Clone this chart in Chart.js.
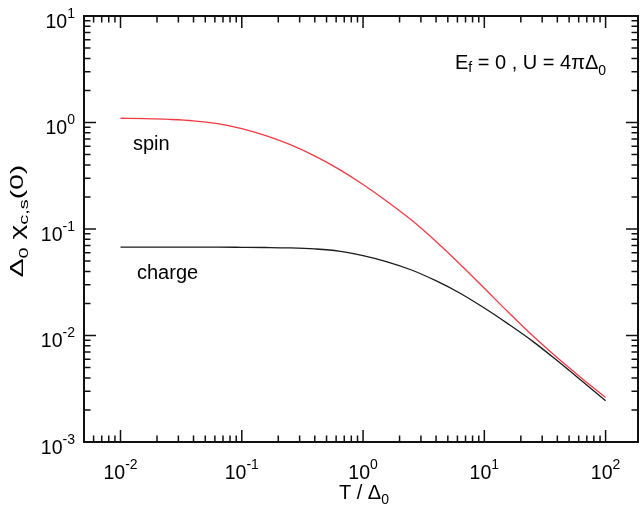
<!DOCTYPE html>
<html>
<head>
<meta charset="utf-8">
<script src="https://cdn.jsdelivr.net/npm/chart.js@4.4.1/dist/chart.umd.min.js"></script>
<style>
  html, body { margin: 0; padding: 0; background: #fff; }
  canvas { display: block; }
</style>
</head>
<body>
<canvas id="chi" width="641" height="510"></canvas>
<script>
// temperature grid, T / Δ0 (five points per decade)
const temps = [0.01, 0.0158, 0.0251, 0.0398, 0.0631, 0.1, 0.158, 0.251, 0.398, 0.631, 1, 1.58, 2.51, 3.98, 6.31, 10, 15.8, 25.1, 39.8, 63.1, 100];
// static susceptibilities Δ0 χ(0)
const chiSpin = [1.096, 1.086, 1.069, 1.038, 0.975, 0.877, 0.753, 0.619, 0.486, 0.365, 0.262, 0.1816, 0.1213, 0.0767, 0.0467, 0.0278, 0.01652, 0.00993, 0.00621, 0.0040, 0.00262];
const chiCharge = [0.0675, 0.0675, 0.0675, 0.0675, 0.0675, 0.0673, 0.0670, 0.0664, 0.0650, 0.0621, 0.0562, 0.0492, 0.0412, 0.0327, 0.02495, 0.01811, 0.01279, 0.00881, 0.00582, 0.00378, 0.00244];
// decades that carry a 10^n label
const xDecades = [-2, -1, 0, 1, 2];
const yDecades = [-3, -2, -1, 0, 1];

const FONT = '"Liberation Sans", Arial, Helvetica, sans-serif';

// a run of text pieces [text, size, dy] laid out left to right on one baseline
function runWidth(ctx, parts) {
  let w = 0;
  for (const [t, size] of parts) {
    ctx.font = size + 'px ' + FONT;
    w += ctx.measureText(t).width;
  }
  return w;
}
function drawRun(ctx, parts, x, y) {
  ctx.textAlign = 'left';
  ctx.textBaseline = 'alphabetic';
  for (const [t, size, dy] of parts) {
    ctx.font = size + 'px ' + FONT;
    ctx.fillText(t, x, y + dy);
    x += ctx.measureText(t).width;
  }
}
const pow10 = n => [['10', 19.5, 0], [String(n), 14, -10]];

const axesBox = {
  id: 'axesBox',
  afterDatasetsDraw(chart) {
    const { ctx, chartArea: a, scales: { x, y } } = chart;
    ctx.save();
    ctx.strokeStyle = '#111';
    ctx.lineWidth = 1.5;
    ctx.beginPath();
    // inward ticks on all four sides, long at decades
    for (let d = -3; d <= 2; d++) {
      for (let m = 1; m <= 9; m++) {
        const v = m * Math.pow(10, d);
        const len = m === 1 ? 12 : 6.5;
        if (v > x.min && v < x.max) {
          const px = x.getPixelForValue(v);
          ctx.moveTo(px, a.bottom); ctx.lineTo(px, a.bottom - len);
          ctx.moveTo(px, a.top); ctx.lineTo(px, a.top + len);
        }
        if (v > y.min && v < y.max) {
          const py = y.getPixelForValue(v);
          ctx.moveTo(a.left, py); ctx.lineTo(a.left + len, py);
          ctx.moveTo(a.right, py); ctx.lineTo(a.right - len, py);
        }
      }
    }
    ctx.stroke();
    ctx.lineWidth = 2;
    ctx.strokeRect(a.left, a.top, a.right - a.left, a.bottom - a.top);

    ctx.fillStyle = '#000';
    for (const n of xDecades) {
      const parts = pow10(n);
      const px = x.getPixelForValue(Math.pow(10, n));
      drawRun(ctx, parts, px - runWidth(ctx, parts) / 2, a.bottom + 37);
    }
    for (const n of yDecades) {
      const parts = pow10(n);
      const py = y.getPixelForValue(Math.pow(10, n));
      drawRun(ctx, parts, a.left - 9 - runWidth(ctx, parts), py + 11.5);
    }

    // axis titles
    const xTitle = [['T / Δ', 20, 0], ['0', 14, 5]];
    drawRun(ctx, xTitle, (a.left + a.right) / 2 + 3 - runWidth(ctx, xTitle) / 2, 498.5);

    // y title is set wide along its baseline
    const yTitle = [['Δ', 19, 0], ['0', 13.5, 5], [' χ', 19, 0], ['c,s', 13.5, 5], ['(0)', 19, 0]];
    ctx.save();
    ctx.translate(23, 221);
    ctx.rotate(-Math.PI / 2);
    ctx.scale(1.48, 1);
    drawRun(ctx, yTitle, -runWidth(ctx, yTitle) / 2, 0);
    ctx.restore();

    // curve labels and model parameters
    drawRun(ctx, [['spin', 20, 0]], 133, 150);
    drawRun(ctx, [['charge', 20, 0]], 137, 279);
    drawRun(ctx, [['E', 20, 0], ['f', 14, 3], [' = 0 , U = 4πΔ', 20, 0], ['0', 14, 6]], 455, 68.5);
    ctx.restore();
  }
};

new Chart(document.getElementById('chi').getContext('2d'), {
  type: 'line',
  data: {
    datasets: [
      {
        label: 'spin',
        data: temps.map((t, i) => ({ x: t, y: chiSpin[i] })),
        borderColor: '#f03a44',
        borderWidth: 1.3,
        pointRadius: 0,
        cubicInterpolationMode: 'monotone',
        fill: false
      },
      {
        label: 'charge',
        data: temps.map((t, i) => ({ x: t, y: chiCharge[i] })),
        borderColor: '#1a1a1a',
        borderWidth: 1.3,
        pointRadius: 0,
        cubicInterpolationMode: 'monotone',
        fill: false
      }
    ]
  },
  options: {
    responsive: false,
    animation: false,
    devicePixelRatio: 1,
    layout: { padding: { left: 84, top: 16, right: 3, bottom: 68 } },
    plugins: { legend: { display: false }, tooltip: { enabled: false } },
    scales: {
      x: { type: 'logarithmic', min: 0.005, max: 185, display: false },
      y: { type: 'logarithmic', min: 0.001, max: 10, display: false }
    }
  },
  plugins: [axesBox]
});
</script>
</body>
</html>
